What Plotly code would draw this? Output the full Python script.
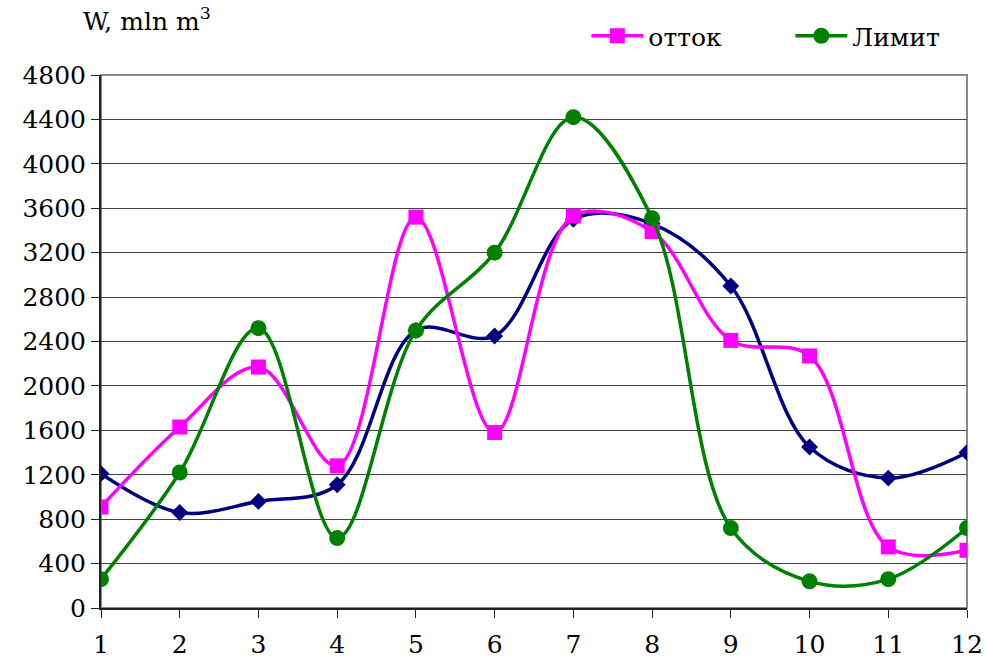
import plotly.graph_objects as go

months = list(range(1, 13))
ottok = [910, 1630, 2170, 1280, 3520, 1580, 3530, 3390, 2410, 2270, 550, 520]
limit = [260, 1220, 2520, 630, 2500, 3200, 4420, 3510, 720, 240, 260, 720]
navy = [1210, 860, 960, 1110, 2500, 2450, 3500, 3460, 2900, 1450, 1170, 1400]
y_ticks = list(range(0, 4801, 400))

font = "DejaVu Serif"

fig = go.Figure()
fig.add_trace(go.Scatter(x=months, y=navy, mode="lines+markers", name="navy",
                         showlegend=False,
                         line=dict(color="#000080", width=3.5, shape="spline", smoothing=1),
                         marker=dict(symbol="diamond", size=13, color="#000080")))
fig.add_trace(go.Scatter(x=months, y=ottok, mode="lines+markers",
                         name="отток\u00a0\u00a0\u00a0\u00a0\u00a0\u00a0\u00a0\u00a0",
                         line=dict(color="#FF00FF", width=3.5, shape="spline", smoothing=1),
                         marker=dict(symbol="square", size=15, color="#FF00FF")))
fig.add_trace(go.Scatter(x=months, y=limit, mode="lines+markers", name="Лимит",
                         line=dict(color="#008000", width=3.5, shape="spline", smoothing=1),
                         marker=dict(symbol="circle", size=16, color="#008000")))

fig.update_layout(
    width=986, height=664,
    margin=dict(l=101, r=19, t=75, b=56, autoexpand=False),
    paper_bgcolor="white", plot_bgcolor="white",
    font=dict(family=font, size=25, color="black"),
    showlegend=True,
    legend=dict(orientation="h", x=0.975, xanchor="right", y=1.03, yanchor="bottom",
                font=dict(family=font, size=25), itemwidth=52, traceorder="normal",
                bgcolor="rgba(0,0,0,0)"),
    annotations=[dict(text="W, mln m<sup>3</sup>", xref="paper", yref="paper",
                      x=-0.023, y=1.07, xanchor="left", yanchor="bottom",
                      showarrow=False, font=dict(family=font, size=25))],
)
fig.update_xaxes(range=[1, 12], tickvals=months, ticks="outside", ticklen=8,
                 tickcolor="#222", showgrid=False, zeroline=False,
                 showline=True, linecolor="#222", linewidth=2, mirror=False,
                 ticklabeloverflow="allow", automargin=False, ticklabelstandoff=5,
                 tickfont=dict(family=font, size=25))
fig.update_yaxes(range=[0, 4800], tickvals=y_ticks, ticks="outside", ticklen=8,
                 tickcolor="#222", showgrid=True, gridcolor="#444", gridwidth=1.2,
                 zeroline=False, showline=True, linecolor="#222", linewidth=2,
                 automargin=False,
                 tickfont=dict(family=font, size=25))
fig.add_shape(type="rect", xref="paper", yref="paper", x0=0, y0=0, x1=1, y1=1,
              line=dict(color="#888", width=2), layer="below")

fig.write_html("out.html")
